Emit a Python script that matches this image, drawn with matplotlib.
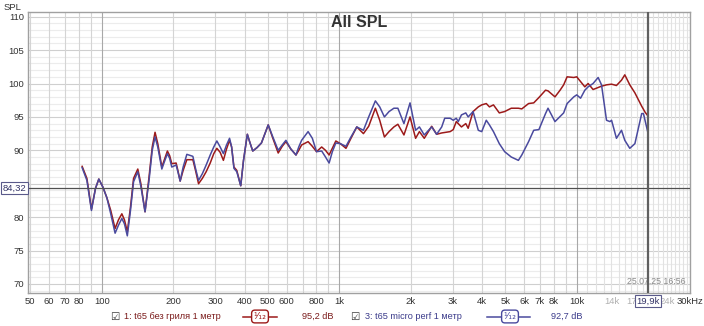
import matplotlib
matplotlib.use('Agg')
import matplotlib.pyplot as plt
from matplotlib.lines import Line2D
from matplotlib.transforms import blended_transform_factory

plt.rcParams['font.family'] = ['Liberation Sans', 'DejaVu Sans']

# частоты и уровни
freq_red = [82.6, 86.5, 90.4, 94.0, 97.1, 101, 105, 109, 113.7, 117.5, 121.4, 124.5, 128,
            132, 136, 141.7, 146, 152, 158, 163, 167.5, 172, 178.9, 183, 188.8, 193, 197,
            205.5, 209, 213.7, 220, 228, 241.7, 248, 255.4, 265, 275, 286, 296, 305, 315,
            325, 335, 345, 352, 360, 370, 384.5, 395, 410, 420, 432, 450, 470, 490, 502,
            525, 553, 575, 596, 625, 657, 675, 694, 739, 770, 802, 843, 875, 906, 935, 967,
            1010, 1067, 1120, 1185, 1264, 1330, 1419, 1480, 1549, 1620, 1698, 1765, 1872,
            1986, 2096, 2175, 2280, 2450, 2570, 2700, 2930, 3020, 3110, 3270, 3410, 3490,
            3660, 3850, 3980, 4160, 4290, 4460, 4720, 4970, 5300, 5680, 5870, 6270, 6590,
            6930, 7390, 7570, 8100, 8510, 8810, 9110, 9720, 10000, 10380, 10820, 11170,
            11720, 12310, 12720, 13350, 14020, 14700, 15440, 15940, 16730, 17580, 18780,
            19410, 19900]
spl_red = [87.6, 85.8, 81.2, 84.3, 85.7, 84.5, 82.9, 81.0, 78.3, 79.6, 80.5, 79.6, 77.8,
           81.5, 85.8, 87.2, 85.0, 80.8, 86.0, 90.5, 92.7, 91.0, 87.5, 88.5, 89.9, 89.2, 88.0,
           88.1, 87.0, 85.4, 87.0, 88.6, 88.6, 87.0, 85.0, 85.8, 86.8, 88.1, 89.5, 90.3, 89.7,
           88.5, 90.2, 91.5, 90.5, 87.5, 87.0, 84.7, 88.5, 92.4, 91.2, 89.9, 90.4, 91.1, 92.8,
           93.8, 91.8, 89.6, 90.6, 91.3, 90.2, 89.3, 90.0, 90.8, 91.3, 90.6, 89.8, 90.5, 90.0,
           89.3, 90.3, 91.4, 91.0, 90.3, 91.8, 93.5, 92.5, 93.6, 96.3, 94.5, 92.0, 92.8, 93.5,
           93.9, 92.3, 95.0, 91.8, 92.8, 91.8, 93.6, 92.4, 92.6, 92.8, 93.1, 94.3, 93.5, 94.0,
           93.3, 95.8, 96.5, 96.8, 97.0, 96.5, 96.8, 95.6, 95.8, 96.3, 96.3, 96.2, 97.0, 97.1,
           97.9, 99.0, 98.9, 98.0, 99.0, 99.8, 101.0, 100.9, 101.0, 100.3, 99.5, 100.0,
           99.1, 99.4, 99.6, 99.8, 99.9, 99.7, 100.5, 101.3, 99.8, 98.6, 96.6,
           95.7, 95.2]

freq_blue = [82.6, 86.5, 90.4, 94.0, 97.1, 101, 105, 109, 113.7, 117.5, 121.4, 124.5, 128,
             132, 136, 141.7, 146, 152, 158, 163, 167.5, 172, 178.9, 183, 188.8, 193, 197,
             205.5, 209, 213.7, 220, 228, 241.7, 248, 255.4, 265, 275, 286, 296, 305, 315,
             325, 335, 345, 352, 360, 370, 384.5, 395, 410, 420, 432, 450, 470, 490, 502,
             525, 553, 575, 596, 625, 657, 675, 694, 739, 770, 802, 843, 875, 906, 935, 967,
             1010, 1067, 1120, 1185, 1264, 1330, 1419, 1480, 1549, 1620, 1698, 1765, 1872,
             1986, 2096, 2175, 2280, 2450, 2570, 2700, 2780, 2930, 3020, 3110, 3170, 3270,
             3410, 3490, 3660, 3850, 3980, 4160, 4290, 4460, 4720, 4970, 5300, 5680, 5870,
             6270, 6590, 6930, 7390, 7570, 8100, 8810, 9110, 9720, 10000, 10380, 10820,
             11170, 11720, 12310, 12720, 13350, 13800, 14020, 14700, 15440, 15940, 16730,
             17580, 18780, 19100, 19900]
spl_blue = [87.4, 85.5, 81.0, 84.3, 85.7, 84.5, 82.9, 80.5, 77.6, 78.8, 79.8, 79.0, 77.2,
            81.0, 85.3, 86.8, 84.6, 80.8, 85.5, 90.0, 92.0, 90.5, 87.2, 88.2, 89.5, 88.8, 87.5,
            87.8, 86.8, 85.4, 87.5, 89.4, 89.1, 87.3, 85.5, 86.5, 87.8, 89.3, 90.5, 91.4, 90.5,
            89.5, 90.8, 91.8, 90.5, 87.3, 86.8, 84.7, 88.5, 92.4, 91.2, 89.9, 90.4, 91.1, 92.8,
            93.8, 92.0, 90.0, 90.8, 91.5, 90.2, 89.3, 90.5, 91.5, 92.8, 91.8, 89.8, 89.9, 89.0,
            88.1, 89.8, 91.1, 91.0, 90.6, 92.0, 93.5, 93.0, 95.0, 97.4, 96.5, 95.0, 95.8, 96.3,
            96.3, 94.0, 97.1, 93.0, 93.5, 92.3, 93.5, 92.4, 93.5, 94.8, 94.8, 94.5, 94.8, 94.3,
            95.3, 95.6, 95.0, 95.8, 93.0, 92.8, 94.5, 93.8, 92.8, 91.0, 89.8, 89.0, 88.5, 89.3,
            91.3, 93.0, 93.1, 95.5, 96.3, 94.3, 95.6, 97.0, 98.0, 98.3, 97.8, 99.0,
            99.5, 100.0, 100.9, 99.8, 94.5, 94.3, 94.5, 91.8, 93.0, 91.5, 90.3,
            91.0, 95.5, 95.5, 92.8]

x_ticks = [50, 60, 70, 80, 100, 200, 300, 400, 500, 600, 800, 1000, 2000, 3000, 4000,
           5000, 6000, 7000, 8000, 10000, 14000, 17000, 24000, 30000]
x_labels = ['50', '60', '70', '80', '100', '200', '300', '400', '500', '600', '800', '1k',
            '2k', '3k', '4k', '5k', '6k', '7k', '8k', '10k', '14k', '17', '24k', '30kHz']
faded_labels = ['14k', '17', '24k']
y_ticks = [70, 75, 80, 85, 90, 95, 100, 105, 110]
# метка 85 закрыта курсором
y_labels = ['70', '75', '80', '', '90', '95', '100', '105', '110']

cursor_spl = 84.32
cursor_freq = 19900
legend_names = ['1: t65 без гриля 1 метр', '3: t65 micro perf 1 метр']
legend_values = ['95,2 dB', '92,7 dB']

red = '#9c1a1a'
blue = '#4a4a9e'

fig = plt.figure(figsize=(7.04, 3.26), dpi=100)
ax = fig.add_axes([28.3 / 704, 33 / 326, 661.7 / 704, 281 / 326])
ax.set_xscale('log')
ax.set_xlim(49, 30000)
ax.set_ylim(68.65, 110.7)

# сетка
for y in range(69, 111):
    c = '#cfcfcf' if y % 5 == 0 else '#ececec'
    ax.axhline(y, color=c, lw=0.8, zorder=0)
grid_f = []
for dec in [10, 100, 1000]:
    for m in range(1, 10):
        grid_f.append(m * dec)
grid_f += list(range(10000, 30001, 1000))
for f in grid_f:
    if f < 49:
        continue
    if f in (100, 1000, 10000):
        c = '#a8a8a8'
    elif f < 10000:
        c = '#d4d4d4'
    else:
        c = '#e2e2e2'
    ax.axvline(f, color=c, lw=0.8, zorder=0)

ax.plot(freq_red, spl_red, color=red, lw=1.1, zorder=3)
ax.plot(freq_blue, spl_blue, color=blue, lw=1.1, zorder=4)

# курсоры
ax.axhline(cursor_spl, color='#505050', lw=0.9, zorder=5)
ax.axvline(cursor_freq, color='#606060', lw=1.6, zorder=5)

ax.set_xticks(x_ticks)
ax.set_xticklabels(x_labels)
ax.minorticks_off()
ax.set_yticks(y_ticks)
ax.set_yticklabels(y_labels)
ax.tick_params(length=0, labelsize=6.8, colors='#333333', pad=3)
for lab in ax.get_xticklabels():
    if lab.get_text() in faded_labels:
        lab.set_color('#b0b0b0')
for s in ax.spines.values():
    s.set_color('#a0a0a0')
    s.set_linewidth(1.0)

ax.text(0.5, 0.988, 'All SPL', transform=ax.transAxes, ha='center', va='top',
        fontsize=11.5, fontweight='bold', color='#333333')
ax.text(0.993, 0.025, '25.07.25 16:56', transform=ax.transAxes, ha='right',
        va='bottom', fontsize=6.3, color='#8a8a8a')
fig.text(4 / 704, 1 - 8 / 326, 'SPL', ha='left', va='center', fontsize=6.8, color='#333333')

# подписи курсоров
tr = blended_transform_factory(fig.transFigure, ax.transData)
ax.text(14.5 / 704, cursor_spl, '84,32', transform=tr, ha='center', va='center',
        fontsize=6.8, color='#333366', zorder=6,
        bbox=dict(boxstyle='square,pad=0.15', fc='white', ec='#5a5a8a', lw=0.8))
tr2 = blended_transform_factory(ax.transData, fig.transFigure)
ax.text(cursor_freq, 1 - 301 / 326, '19,9k', transform=tr2, ha='center', va='center',
        fontsize=6.8, color='#333366', zorder=6, clip_on=False,
        bbox=dict(boxstyle='square,pad=0.15', fc='white', ec='#5a5a8a', lw=0.8))

# легенда снизу
ly = 1 - 316.5 / 326
items = [(110, 124, 243, 277, 260, 302, red, '#7a1a1a'),
         (350, 365, 487, 530, 510, 551, blue, '#3a3a8a')]
for i, (cx, tx, l0, l1, bx, vx, col, tcol) in enumerate(items):
    fig.text(cx / 704, ly, '☑', ha='left', va='center', fontsize=7.5,
             color='#333333', family=['DejaVu Sans'])
    fig.text(tx / 704, ly, legend_names[i], ha='left', va='center', fontsize=6.6, color=tcol)
    fig.add_artist(Line2D([l0 / 704, l1 / 704], [ly, ly], color=col, lw=1.1,
                          transform=fig.transFigure))
    fig.text(bx / 704, ly, '¹⁄₁₂', ha='center', va='center', fontsize=6.8, color=col,
             family=['DejaVu Sans'],
             bbox=dict(boxstyle='round,pad=0.2,rounding_size=0.35', fc='white', ec=col, lw=1.0))
    fig.text(vx / 704, ly, legend_values[i], ha='left', va='center', fontsize=6.6, color=tcol)

fig.savefig('out.png', dpi=100, facecolor='white')
